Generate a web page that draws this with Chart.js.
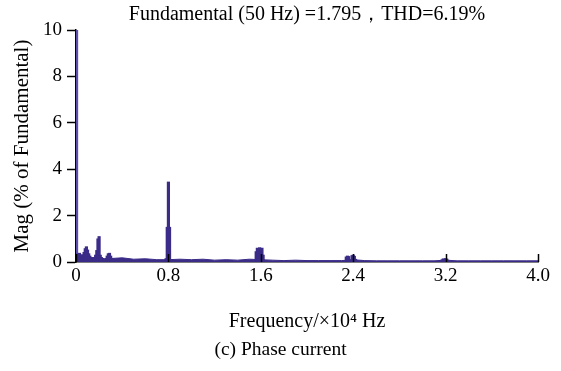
<!DOCTYPE html>
<html>
<head>
<meta charset="utf-8">
<script src="https://cdn.jsdelivr.net/npm/chart.js@4"></script>
<style>
  html, body { margin: 0; padding: 0; background: #fff; }
  #wrap { width: 561px; height: 371px; }
</style>
</head>
<body>
<div id="wrap"><canvas id="spectrum"></canvas></div>
<script>
// harmonic spectrum, frequency in units of 10^4 Hz, magnitude in % of fundamental
const peakFreq = [
  0.005, 0.01, 0.02, 0.03, 0.04, 0.05, 0.06, 0.07, 0.08, 0.09, 0.10,
  0.11, 0.12, 0.13, 0.14, 0.15, 0.16, 0.17, 0.18, 0.19, 0.20,
  0.21, 0.22, 0.23, 0.24, 0.25, 0.26, 0.27, 0.28, 0.29, 0.30, 0.31, 0.32,
  0.78, 0.79, 0.80, 0.81, 0.82,
  1.56, 1.57, 1.58, 1.59, 1.60, 1.61, 1.62,
  2.34, 2.35, 2.36, 2.37, 2.39, 2.40, 2.41, 2.42,
  3.17, 3.18, 3.19, 3.20, 3.21, 3.22
];
const peakMag = [
  10.0, 0.35, 0.30, 0.38, 0.22, 0.32, 0.22, 0.42, 0.58, 0.66, 0.52,
  0.36, 0.26, 0.16, 0.20, 0.14, 0.20, 0.30, 0.50, 1.00, 1.10,
  0.30, 0.20, 0.16, 0.14, 0.12, 0.16, 0.26, 0.36, 0.38, 0.26, 0.16, 0.12,
  0.15, 1.50, 3.45, 1.50, 0.10,
  0.45, 0.60, 0.55, 0.62, 0.50, 0.60, 0.30,
  0.22, 0.26, 0.24, 0.10, 0.28, 0.30, 0.25, 0.12,
  0.10, 0.14, 0.12, 0.15, 0.13, 0.08
];
// low-level noise floor between the harmonic clusters
const floorFreq = [
  0.30, 0.40, 0.50, 0.60, 0.70, 0.80, 0.90, 1.00, 1.10, 1.20,
  1.30, 1.40, 1.50, 1.60, 1.70, 1.80, 1.90, 2.00, 2.10, 2.20,
  2.30, 2.40, 2.50, 2.60, 2.70, 2.80, 2.90, 3.00, 3.10, 3.20,
  3.30, 3.40, 3.50, 3.60, 3.70, 3.80, 3.90, 4.00
];
const floorMag = [
  0.15, 0.18, 0.12, 0.14, 0.10, 0.10, 0.12, 0.10, 0.12, 0.08,
  0.10, 0.08, 0.12, 0.10, 0.08, 0.06, 0.08, 0.06, 0.06, 0.06,
  0.06, 0.10, 0.06, 0.05, 0.05, 0.05, 0.05, 0.05, 0.05, 0.08,
  0.05, 0.05, 0.05, 0.05, 0.05, 0.05, 0.05, 0.05
];
const xTicks = [0, 0.8, 1.6, 2.4, 3.2, 4.0];
const xTickLabels = ['0', '0.8', '1.6', '2.4', '3.2', '4.0'];
const yTicks = [0, 2, 4, 6, 8, 10];

const barColor = '#3b2c88';
const fundColor = '#5d4cab';
const serif = "'Liberation Serif', 'Times New Roman', serif";

// x ticks point into the plot, so draw them after the bars
const inwardTicks = {
  id: 'inwardTicks',
  afterDatasetsDraw(chart) {
    const ctx = chart.ctx;
    const x = chart.scales.x;
    ctx.save();
    ctx.strokeStyle = '#000';
    ctx.lineWidth = 1.5;
    xTicks.forEach(v => {
      const px = Math.round(x.getPixelForValue(v)) + 0.5;
      ctx.beginPath();
      ctx.moveTo(px, x.top);
      ctx.lineTo(px, x.top - 8);
      ctx.stroke();
    });
    ctx.restore();
  }
};

new Chart(document.getElementById('spectrum'), {
  type: 'bar',
  data: {
    datasets: [{
      type: 'bar',
      data: peakFreq.map((f, i) => ({ x: f, y: peakMag[i] })),
      backgroundColor: peakFreq.map((f, i) => i === 0 ? fundColor : barColor),
      borderWidth: 0,
      barThickness: 2.5,
      order: 1
    }, {
      type: 'line',
      data: floorFreq.map((f, i) => ({ x: f, y: floorMag[i] })),
      borderColor: barColor,
      backgroundColor: barColor,
      borderWidth: 1,
      pointRadius: 0,
      fill: 'origin',
      order: 2
    }]
  },
  options: {
    responsive: true,
    maintainAspectRatio: false,
    animation: false,
    layout: { padding: 0 },
    plugins: {
      legend: { display: false },
      tooltip: { enabled: false },
      title: {
        display: true,
        fullSize: false,
        text: 'Fundamental (50 Hz) =1.795\uFF0CTHD=6.19%',
        color: '#000',
        font: { family: serif, size: 20, weight: 'normal', lineHeight: 1.2 },
        padding: { top: 3, bottom: 3 }
      },
      subtitle: {
        display: true,
        position: 'bottom',
        text: '(c) Phase current',
        color: '#000',
        font: { family: serif, size: 19.5, weight: 'normal', lineHeight: 1.2 },
        padding: { top: 4, bottom: 9 }
      }
    },
    scales: {
      x: {
        type: 'linear',
        min: 0,
        max: 4,
        offset: false,
        afterBuildTicks: s => { s.ticks = xTicks.map(v => ({ value: v })); },
        afterFit: s => { s.height = 72.6; },
        ticks: {
          color: '#000',
          font: { family: serif, size: 19 },
          padding: 3,
          maxRotation: 0,
          autoSkip: false,
          callback: (v, i) => xTickLabels[i]
        },
        grid: { display: true, drawOnChartArea: false, drawTicks: false },
        border: { display: true, color: '#000', width: 1.5 },
        title: {
          display: true,
          text: 'Frequency/\u00D710\u2074 Hz',
          color: '#000',
          font: { family: serif, size: 20, lineHeight: 1.2 },
          padding: { top: 0, bottom: 0.6 }
        }
      },
      y: {
        min: 0,
        max: 10,
        afterBuildTicks: s => { s.ticks = yTicks.map(v => ({ value: v })); },
        afterFit: s => { s.width = 76; },
        ticks: {
          color: '#000',
          font: { family: serif, size: 19 },
          padding: 5
        },
        grid: {
          display: true,
          drawOnChartArea: false,
          drawTicks: true,
          tickLength: 9,
          tickColor: '#000',
          tickWidth: 1.5
        },
        border: { display: true, color: '#000', width: 1.5 },
        title: {
          display: true,
          text: 'Mag (% of Fundamental)',
          color: '#000',
          font: { family: serif, size: 21, lineHeight: 1.2 },
          padding: { top: 9.5, bottom: 0 }
        }
      },
      // empty right-hand margin so the caption centres on the whole picture
      yRight: {
        position: 'right',
        display: true,
        afterFit: s => { s.width = 23; },
        ticks: { display: false },
        grid: { display: false },
        border: { display: false }
      }
    }
  },
  plugins: [inwardTicks]
});
</script>
</body>
</html>
